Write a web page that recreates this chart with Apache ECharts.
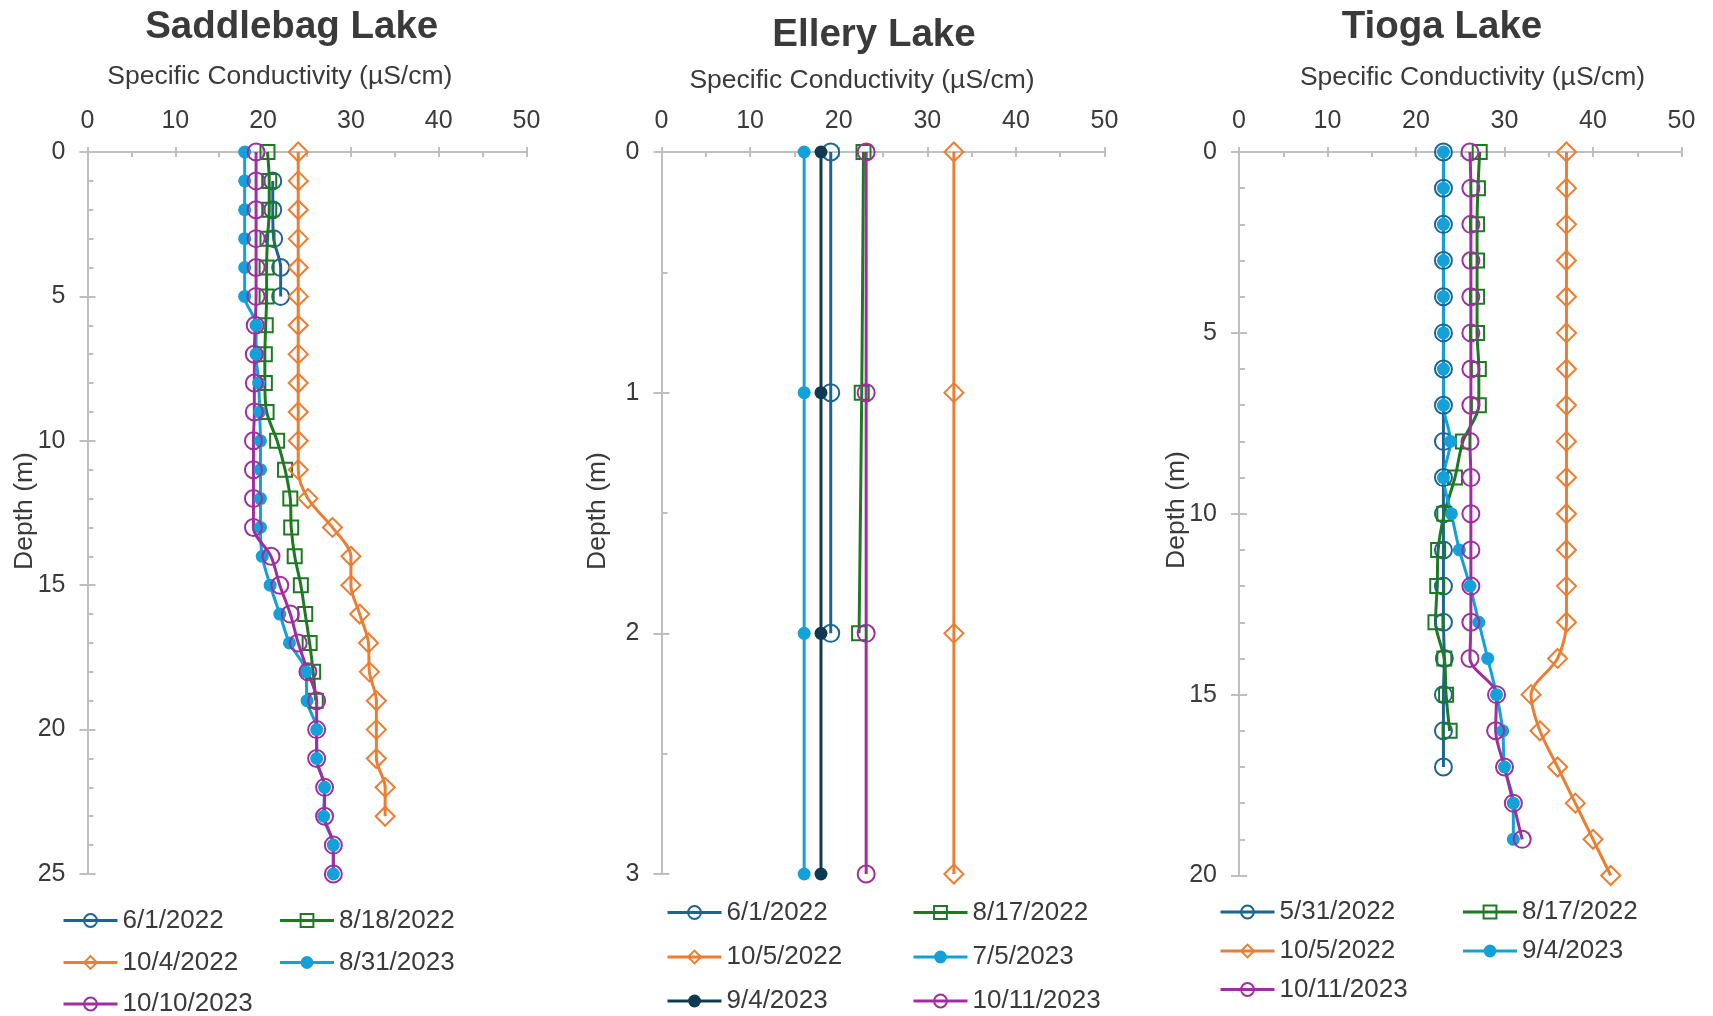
<!DOCTYPE html>
<html>
<head>
<meta charset="utf-8">
<script src="https://cdn.jsdelivr.net/npm/echarts@6/dist/echarts.min.js"></script>
<style>
html,body{margin:0;padding:0;background:#ffffff;}
#chart{width:1713px;height:1016px;}
</style>
</head>
<body>
<div id="chart"></div>
<script>
// ---------------- DATA ----------------
// Chart titles and axis texts
const lakeTitles = ['Saddlebag Lake', 'Ellery Lake', 'Tioga Lake'];
const xAxisTitle = 'Specific Conductivity (µS/cm)';
const yAxisTitle = 'Depth (m)';

// Saddlebag Lake (depth in m, specific conductivity in µS/cm)
const sbNames = ['6/1/2022', '8/18/2022', '10/4/2022', '8/31/2023', '10/10/2023'];
const sbDepth_0601_2022 = [1, 2, 3, 4, 5];
const sbCond_0601_2022  = [21.1, 21.1, 21.2, 22.0, 22.0];
const sbDepth_0818_2022 = [0,1,2,3,4,5,6,7,8,9,10,11,12,13,14,15,16,17,18,19];
const sbCond_0818_2022  = [20.5,20.7,20.7,20.5,20.4,20.4,20.3,20.2,20.2,20.4,21.6,22.5,23.1,23.2,23.6,24.3,24.8,25.3,25.7,26.0];
const sbDepth_1004_2022 = [0,1,2,3,4,5,6,7,8,9,10,11,12,13,14,15,16,17,18,19,20,21,22,23];
const sbCond_1004_2022  = [24.0,24.0,24.0,24.0,24.0,24.0,24.0,24.0,24.0,24.0,24.0,24.0,25.1,27.9,30.0,30.0,31.0,32.0,32.1,32.9,32.9,32.9,33.9,33.9];
const sbDepth_0831_2023 = [0,1,2,3,4,5,6,7,8,9,10,11,12,13,14,15,16,17,18,19,20,21,22,23,24,25];
const sbCond_0831_2023  = [17.9,17.9,17.9,17.9,17.9,17.9,19.2,19.2,19.5,19.6,19.7,19.7,19.7,19.7,19.9,20.8,21.9,23.0,24.9,25.0,26.1,26.1,27.0,26.9,28.0,28.0];
const sbDepth_1010_2023 = [0,1,2,3,4,5,6,7,8,9,10,11,12,13,14,15,16,17,18,19,20,21,22,23,24,25];
const sbCond_1010_2023  = [19.2,19.2,19.2,19.2,19.2,19.2,19.1,19.0,19.0,19.0,18.9,18.9,18.9,18.9,20.9,21.9,23.1,24.0,25.1,26.1,26.1,26.1,27.0,27.0,28.0,28.0];

// Ellery Lake
const elNames = ['6/1/2022', '8/17/2022', '10/5/2022', '7/5/2023', '9/4/2023', '10/11/2023'];
const elDepth_0601_2022 = [0, 1, 2];
const elCond_0601_2022  = [19.1, 19.1, 19.1];
const elDepth_0817_2022 = [0, 1, 2];
const elCond_0817_2022  = [22.8, 22.6, 22.3];
const elDepth_1005_2022 = [0, 1, 2, 3];
const elCond_1005_2022  = [33.0, 33.0, 33.0, 33.0];
const elDepth_0705_2023 = [0, 1, 2, 3];
const elCond_0705_2023  = [16.1, 16.1, 16.1, 16.1];
const elDepth_0904_2023 = [0, 1, 2, 3];
const elCond_0904_2023  = [18.0, 18.0, 18.0, 18.0];
const elDepth_1011_2023 = [0, 1, 2, 3];
const elCond_1011_2023  = [23.1, 23.1, 23.1, 23.1];

// Tioga Lake
const tgNames = ['5/31/2022', '8/17/2022', '10/5/2022', '9/4/2023', '10/11/2023'];
const tgDepth_0531_2022 = [0,1,2,3,4,5,6,7,8,9,10,11,12,13,14,15,16,17];
const tgCond_0531_2022  = [23.1,23.1,23.1,23.1,23.1,23.1,23.1,23.1,23.1,23.1,23.1,23.1,23.1,23.1,23.2,23.1,23.1,23.1];
const tgDepth_0817_2022 = [0,1,2,3,4,5,6,7,8,9,10,11,12,13,14,15,16];
const tgCond_0817_2022  = [27.2,27.0,26.9,26.9,26.9,26.9,27.1,27.1,25.3,24.4,23.2,22.5,22.4,22.2,23.2,23.4,23.8];
const tgDepth_1005_2022 = [0,1,2,3,4,5,6,7,8,9,10,11,12,13,14,15,16,17,18,19,20];
const tgCond_1005_2022  = [37.0,37.0,37.0,37.0,37.0,37.0,37.0,37.0,37.0,37.0,37.0,37.0,37.0,37.0,36.0,33.0,34.0,36.0,38.0,40.0,42.0];
const tgDepth_0904_2023 = [0,1,2,3,4,5,6,7,8,9,10,11,12,13,14,15,16,17,18,19];
const tgCond_0904_2023  = [23.1,23.1,23.1,23.1,23.1,23.1,23.1,23.1,23.9,23.1,24.0,24.9,26.1,27.1,28.1,29.1,29.8,30.0,31.0,31.0];
const tgDepth_1011_2023 = [0,1,2,3,4,5,6,7,8,9,10,11,12,13,14,15,16,17,18,19];
const tgCond_1011_2023  = [26.1,26.2,26.2,26.2,26.2,26.2,26.2,26.2,26.1,26.2,26.2,26.2,26.2,26.2,26.1,29.1,29.0,30.0,31.0,32.0];

// Axis ranges / ticks
const xTicks = {min: 0, max: 50, interval: 10};
const yTicks = [
  {min: 0, max: 25, interval: 5, minorSplit: 5},
  {min: 0, max: 3,  interval: 1, minorSplit: 2},
  {min: 0, max: 20, interval: 5, minorSplit: 5}
];

// ---------------- STYLE / LAYOUT ----------------
const FONT = '"Liberation Sans", Arial, Helvetica, sans-serif';
const TXT = '#3a3a3a';
const AXC = '#bfbfbf';
const C = {
  dblue: '#1d6590',
  green: '#1e7a22',
  orange: '#ed7d31',
  lblue: '#14a0d8',
  purple: '#a02ea0',
  navy: '#0e3a52'
};
const M = {
  open:    {symbol: 'circle',  size: 17, filled: false},
  square:  {symbol: 'rect',    size: 14, filled: false},
  diamond: {symbol: 'diamond', size: 19, filled: false},
  dot:     {symbol: 'circle',  size: 13, filled: true}
};

const grids = [
  {left: 87.5, top: 152, width: 439, height: 722},
  {left: 661.5, top: 152, width: 443, height: 722},
  {left: 1239, top: 152, width: 442.5, height: 723.5}
];

function mk(gi, name, depths, vals, color, mk) {
  return {
    type: 'line',
    name: lakeTitles[gi] + '|' + name,
    xAxisIndex: gi * 2,
    yAxisIndex: gi * 2,
    data: depths.map((d, i) => [vals[i], d]),
    smooth: 0.3,
    symbol: mk.symbol,
    symbolSize: mk.size,
    showAllSymbol: true,
    lineStyle: {color: color, width: 3},
    itemStyle: mk.filled
      ? {color: color, borderColor: color, borderWidth: 0}
      : {color: 'rgba(255,255,255,0)', borderColor: color, borderWidth: 2},
    emphasis: {disabled: true},
    animation: false
  };
}

const series = [
  mk(0, sbNames[0], sbDepth_0601_2022, sbCond_0601_2022, C.dblue, M.open),
  mk(0, sbNames[1], sbDepth_0818_2022, sbCond_0818_2022, C.green, M.square),
  mk(0, sbNames[2], sbDepth_1004_2022, sbCond_1004_2022, C.orange, M.diamond),
  mk(0, sbNames[3], sbDepth_0831_2023, sbCond_0831_2023, C.lblue, M.dot),
  mk(0, sbNames[4], sbDepth_1010_2023, sbCond_1010_2023, C.purple, M.open),

  mk(1, elNames[0], elDepth_0601_2022, elCond_0601_2022, C.dblue, M.open),
  mk(1, elNames[1], elDepth_0817_2022, elCond_0817_2022, C.green, M.square),
  mk(1, elNames[2], elDepth_1005_2022, elCond_1005_2022, C.orange, M.diamond),
  mk(1, elNames[3], elDepth_0705_2023, elCond_0705_2023, C.lblue, M.dot),
  mk(1, elNames[4], elDepth_0904_2023, elCond_0904_2023, C.navy, M.dot),
  mk(1, elNames[5], elDepth_1011_2023, elCond_1011_2023, C.purple, M.open),

  mk(2, tgNames[0], tgDepth_0531_2022, tgCond_0531_2022, C.dblue, M.open),
  mk(2, tgNames[1], tgDepth_0817_2022, tgCond_0817_2022, C.green, M.square),
  mk(2, tgNames[2], tgDepth_1005_2022, tgCond_1005_2022, C.orange, M.diamond),
  mk(2, tgNames[3], tgDepth_0904_2023, tgCond_0904_2023, C.lblue, M.dot),
  mk(2, tgNames[4], tgDepth_1011_2023, tgCond_1011_2023, C.purple, M.open)
];

const xAxes = [], yAxes = [];
grids.forEach((g, i) => {
  // main x axis (line, labels, outside half of major ticks)
  xAxes.push({
    type: 'value', gridIndex: i, position: 'top',
    min: xTicks.min, max: xTicks.max, interval: xTicks.interval,
    axisLine: {show: true, onZero: false, lineStyle: {color: AXC, width: 2}},
    axisTick: {show: true, inside: false, length: 5, lineStyle: {color: AXC, width: 2}},
    minorTick: {show: false},
    splitLine: {show: false},
    axisLabel: {show: true, margin: 18, fontSize: 25, color: TXT, fontFamily: FONT}
  });
  // helper x axis: inside ticks + minor ticks
  xAxes.push({
    type: 'value', gridIndex: i, position: 'top',
    min: xTicks.min, max: xTicks.max, interval: xTicks.interval,
    axisLine: {show: false, onZero: false},
    axisTick: {show: true, inside: true, length: 5, lineStyle: {color: AXC, width: 2}},
    minorTick: {show: true, splitNumber: 2, length: 5, lineStyle: {color: AXC, width: 2}},
    splitLine: {show: false},
    axisLabel: {show: false}
  });
  const yt = yTicks[i];
  yAxes.push({
    type: 'value', gridIndex: i, position: 'left', inverse: true,
    min: yt.min, max: yt.max, interval: yt.interval,
    axisLine: {show: true, onZero: false, lineStyle: {color: AXC, width: 2}},
    axisTick: {show: true, inside: false, length: 8, lineStyle: {color: AXC, width: 2}},
    minorTick: {show: false},
    splitLine: {show: false},
    axisLabel: {show: true, margin: 22, fontSize: 25, color: TXT, fontFamily: FONT}
  });
  yAxes.push({
    type: 'value', gridIndex: i, position: 'left', inverse: true,
    min: yt.min, max: yt.max, interval: yt.interval,
    axisLine: {show: false, onZero: false},
    axisTick: {show: true, inside: true, length: 8, lineStyle: {color: AXC, width: 2}},
    minorTick: {show: true, splitNumber: yt.minorSplit, length: 6, lineStyle: {color: AXC, width: 2}},
    splitLine: {show: false},
    axisLabel: {show: false}
  });
});

// one legend component per entry, placed at (left, row-centre)
function legendItem(gi, name, left, cy) {
  return {
    orient: 'horizontal', left: left, top: cy - 12, padding: 0,
    itemWidth: 54, itemHeight: 16,
    selectedMode: false,
    data: [lakeTitles[gi] + '|' + name],
    formatter: n => n.split('|')[1],
    lineStyle: {width: 3},
    textStyle: {fontSize: 26, lineHeight: 24, color: TXT, fontFamily: FONT}
  };
}

const legends = [
  legendItem(0, sbNames[0], 62, 919.5),
  legendItem(0, sbNames[1], 278.5, 919.5),
  legendItem(0, sbNames[2], 62, 961.5),
  legendItem(0, sbNames[3], 278.5, 961.5),
  legendItem(0, sbNames[4], 62, 1003),
  legendItem(1, elNames[0], 666, 911.5),
  legendItem(1, elNames[1], 912, 911.5),
  legendItem(1, elNames[2], 666, 956),
  legendItem(1, elNames[3], 912, 956),
  legendItem(1, elNames[4], 666, 1000),
  legendItem(1, elNames[5], 912, 1000),
  legendItem(2, tgNames[0], 1219, 911),
  legendItem(2, tgNames[1], 1461.5, 911),
  legendItem(2, tgNames[2], 1219, 950),
  legendItem(2, tgNames[3], 1461.5, 950),
  legendItem(2, tgNames[4], 1219, 988.5)
];

function txt(x, y, text, size, bold, rot) {
  return {
    type: 'text', x: x, y: y, rotation: rot || 0, silent: true,
    style: {
      text: text, fill: TXT, fontSize: size, fontWeight: bold ? 'bold' : 'normal',
      fontFamily: FONT, align: 'center', verticalAlign: 'middle'
    }
  };
}

const graphics = [
  txt(291.7, 27, lakeTitles[0], 38.5, true),
  txt(874, 35, lakeTitles[1], 38.5, true),
  txt(1442, 27, lakeTitles[2], 38.5, true),
  txt(279.8, 77, xAxisTitle, 26.5, false),
  txt(862, 81, xAxisTitle, 26.5, false),
  txt(1472.5, 78, xAxisTitle, 26.5, false),
  txt(24.5, 511, yAxisTitle, 26.5, false, Math.PI / 2),
  txt(597.5, 511, yAxisTitle, 26.5, false, Math.PI / 2),
  txt(1176.5, 510, yAxisTitle, 26.5, false, Math.PI / 2)
];

const chart = echarts.init(document.getElementById('chart'), null, {renderer: 'canvas'});
chart.setOption({
  backgroundColor: '#ffffff',
  animation: false,
  grid: grids,
  xAxis: xAxes,
  yAxis: yAxes,
  legend: legends,
  graphic: graphics,
  series: series
});
</script>
</body>
</html>
